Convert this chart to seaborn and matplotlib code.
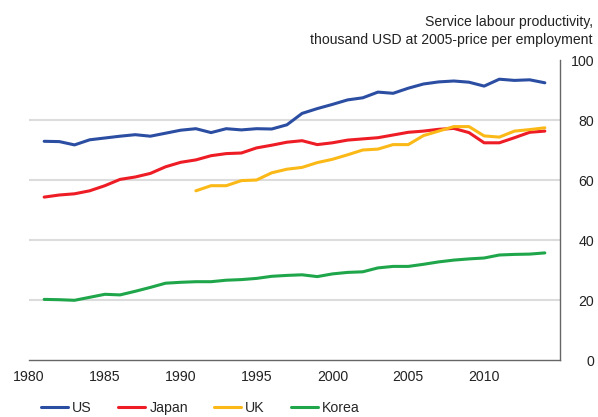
import matplotlib
matplotlib.use('Agg')
import matplotlib.pyplot as plt
from matplotlib.lines import Line2D
import numpy as np
import pandas as pd
import seaborn as sns

# annual values, thousand USD at 2005 prices per employment
years = list(range(1981, 2015))
us = [72.9, 72.8, 71.7, 73.4, 74.0, 74.6, 75.1, 74.6, 75.6, 76.6,
      77.1, 75.8, 77.1, 76.7, 77.1, 77.0, 78.4, 82.2, 83.8, 85.2,
      86.7, 87.4, 89.3, 88.9, 90.6, 92.0, 92.7, 93.0, 92.6, 91.3,
      93.6, 93.2, 93.4, 92.4]
japan = [54.3, 55.0, 55.4, 56.4, 58.1, 60.2, 61.0, 62.2, 64.4, 65.9,
         66.7, 68.1, 68.8, 69.0, 70.7, 71.6, 72.6, 73.1, 71.8, 72.4,
         73.3, 73.7, 74.1, 75.0, 75.9, 76.3, 76.9, 77.2, 75.8, 72.4,
         72.4, 74.1, 75.9, 76.3]
uk = [None] * 10 + [56.4, 58.1, 58.1, 59.8, 60.0, 62.4, 63.6, 64.2, 65.8, 66.9,
                    68.4, 70.0, 70.3, 71.8, 71.8, 74.8, 76.3, 77.8, 77.8, 74.7,
                    74.3, 76.3, 76.8, 77.4]
korea = [20.2, 20.1, 19.9, 20.9, 21.9, 21.7, 22.9, 24.2, 25.6, 25.9,
         26.1, 26.1, 26.6, 26.8, 27.2, 27.9, 28.2, 28.4, 27.8, 28.7,
         29.2, 29.4, 30.7, 31.2, 31.2, 31.9, 32.7, 33.3, 33.7, 34.0,
         35.0, 35.2, 35.3, 35.7]

countries = ['US', 'Japan', 'UK', 'Korea']
colors = ['#2b4ea2', '#ee1c25', '#fbb917', '#1fa64b']
xticks = [1980, 1985, 1990, 1995, 2000, 2005, 2010]
yticks = [0, 20, 40, 60, 80, 100]

df = pd.DataFrame({'year': years, 'US': us, 'Japan': japan, 'UK': uk, 'Korea': korea})
long = df.melt(id_vars='year', var_name='country', value_name='value').dropna()

sns.set_style('white')
plt.rcParams['font.family'] = ['Liberation Sans', 'DejaVu Sans']

fig = plt.figure(figsize=(5.98, 4.17), dpi=100)
ax = fig.add_axes([29 / 598, 57 / 417, 531 / 598, 300 / 417])

sns.lineplot(data=long, x='year', y='value', hue='country', hue_order=countries,
             palette=dict(zip(countries, colors)), lw=2.2, legend=False, ax=ax)

ax.set_xlim(1980, 2015)
ax.set_ylim(0, 100)
ax.set_xticks(xticks)
ax.set_yticks(yticks)
ax.set_xlabel('')
ax.set_ylabel('')

ax.grid(axis='y', color='#dcdcdc', lw=1.5)
ax.grid(axis='x', visible=False)
for t, v in zip(ax.yaxis.get_major_ticks(), yticks):
    if v in (0, 100):
        t.gridline.set_visible(False)

for s in ['left', 'top']:
    ax.spines[s].set_visible(False)
for s in ['bottom', 'right']:
    ax.spines[s].set_color('#666666')
    ax.spines[s].set_linewidth(1.0)

ax.yaxis.tick_right()
ax.tick_params(axis='y', length=0, pad=24.5, labelsize=10.2, labelcolor='#222222')
for lab in ax.get_yticklabels():
    lab.set_ha('right')
ax.tick_params(axis='x', direction='in', length=5, width=1, color='#666666',
               pad=7, labelsize=10.2, labelcolor='#222222')

fig.text(593 / 598, 1 - 31 / 417,
         'Service labour productivity,\nthousand USD at 2005-price per employment',
         ha='right', va='center', fontsize=10.1, color='#222222', linespacing=1.3)

handles = [Line2D([], [], color=c, lw=2.2) for c in colors]
fig.legend(handles, countries, loc='center left', bbox_to_anchor=(41 / 598, 9 / 417),
           ncol=4, frameon=False, fontsize=10.2, handlelength=1.9, handletextpad=0.3,
           columnspacing=1.85, borderpad=0, borderaxespad=0)

fig.savefig('out.png', dpi=100)
